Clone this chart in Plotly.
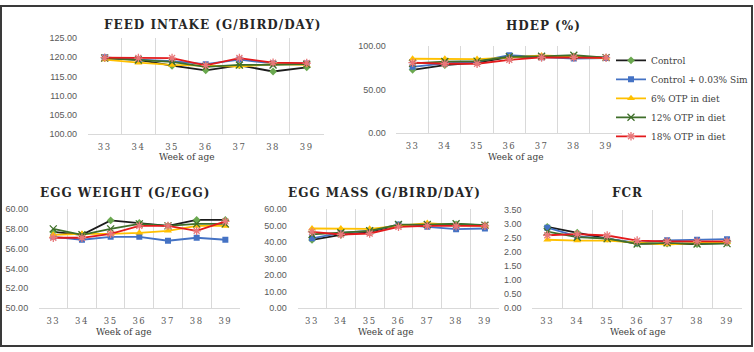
import plotly.graph_objects as go

W, H = 754, 352

weeks = [33, 34, 35, 36, 37, 38, 39]
series_names = ["Control", "Control + 0.03% Sim", "6% OTP in diet", "12% OTP in diet", "18% OTP in diet"]

feed_intake = {
    "Control": [119.8, 119.3, 117.8, 116.6, 117.9, 116.3, 117.4],
    "Control + 0.03% Sim": [120.0, 119.4, 119.0, 118.2, 119.4, 118.4, 118.4],
    "6% OTP in diet": [119.4, 118.6, 118.0, 117.8, 117.6, 118.2, 118.0],
    "12% OTP in diet": [119.8, 119.3, 118.8, 117.5, 118.0, 118.0, 118.2],
    "18% OTP in diet": [119.9, 119.8, 119.8, 117.9, 119.8, 118.6, 118.5],
}
hdep = {
    "Control": [72.6, 77.8, 80.7, 87.0, 87.5, 88.0, 86.5],
    "Control + 0.03% Sim": [76.0, 80.0, 82.0, 89.2, 87.0, 85.5, 86.0],
    "6% OTP in diet": [85.2, 85.2, 84.8, 86.5, 89.0, 87.5, 86.0],
    "12% OTP in diet": [80.0, 82.0, 82.5, 87.5, 88.0, 89.2, 86.5],
    "18% OTP in diet": [80.7, 79.5, 79.5, 84.0, 86.7, 86.7, 86.3],
}
egg_weight = {
    "Control": [57.7, 57.4, 58.85, 58.6, 58.3, 58.9, 58.9],
    "Control + 0.03% Sim": [57.2, 56.9, 57.2, 57.2, 56.8, 57.1, 56.9],
    "6% OTP in diet": [57.4, 57.5, 57.5, 57.6, 57.8, 58.3, 58.3],
    "12% OTP in diet": [58.0, 57.4, 58.0, 58.5, 58.3, 58.5, 58.5],
    "18% OTP in diet": [57.1, 57.1, 57.5, 58.3, 58.3, 57.8, 58.75],
}
egg_mass = {
    "Control": [41.3, 44.3, 46.2, 50.2, 50.2, 50.7, 50.2],
    "Control + 0.03% Sim": [42.3, 45.6, 46.8, 50.6, 49.2, 47.8, 48.2],
    "6% OTP in diet": [48.2, 48.2, 48.0, 49.8, 51.5, 50.2, 49.8],
    "12% OTP in diet": [44.6, 45.6, 46.8, 50.6, 50.6, 51.1, 50.2],
    "18% OTP in diet": [46.2, 44.6, 45.2, 49.2, 49.8, 49.6, 49.8],
}
fcr = {
    "Control": [2.90, 2.69, 2.48, 2.30, 2.30, 2.28, 2.33],
    "Control + 0.03% Sim": [2.87, 2.56, 2.48, 2.33, 2.42, 2.44, 2.46],
    "6% OTP in diet": [2.44, 2.41, 2.41, 2.33, 2.27, 2.33, 2.35],
    "12% OTP in diet": [2.73, 2.53, 2.48, 2.29, 2.33, 2.29, 2.30],
    "18% OTP in diet": [2.60, 2.64, 2.59, 2.41, 2.38, 2.38, 2.38],
}

titles = ["FEED INTAKE (G/BIRD/DAY)", "HDEP (%)", "EGG WEIGHT (G/EGG)", "EGG MASS (G/BIRD/DAY)", "FCR"]
x_title = "Week of age"

SERIF = "DejaVu Serif"
SANS = "Liberation Sans, Arial, sans-serif"

styles = {
    "Control": dict(line="#1c1c1c", marker="#6aa84f", symbol="diamond", size=6, mline=None),
    "Control + 0.03% Sim": dict(line="#4472C4", marker="#4472C4", symbol="square", size=6, mline=None),
    "6% OTP in diet": dict(line="#FFC000", marker="#FFC000", symbol="triangle-up", size=7, mline=None),
    "12% OTP in diet": dict(line="#3f6f2a", marker="#3f6f2a", symbol="x-thin-open", size=7, mline="#3f6f2a"),
    "18% OTP in diet": dict(line="#E31A1C", marker="#E8787a", symbol="asterisk-open", size=7, mline="#E8787a"),
}

# panel pixel boxes: (left, right, top, bottom), y range, dtick
panels = [
    (feed_intake, (88, 324, 34, 133), (100, 125), 5),
    (hdep, (397, 623, 42, 132), (0, 100), 50),
    (egg_weight, (39, 240, 210, 312), (50, 60), 2),
    (egg_mass, (298, 500, 210, 312), (0, 60), 10),
    (fcr, (533, 743, 211, 312), (0, 3.5), 0.5),
]
title_pos = [(213, 21), (544, 22), (125, 193), (385, 194), (628, 193)]
xtitle_pos = [(187, 156), (517, 156), (124, 337), (387, 337), (639, 337)]

fig = go.Figure()
layout = {}
grid_color = "#D9D9D9"
for i, (data, (l, r, t, b), yr, dt) in enumerate(panels):
    n = "" if i == 0 else str(i + 1)
    xa, ya = "x" + n, "y" + n
    for name in series_names:
        s = styles[name]
        mk = dict(symbol=s["symbol"], size=s["size"], color=s["marker"])
        if s["mline"]:
            mk["line"] = dict(color=s["mline"], width=1.3)
        fig.add_trace(go.Scatter(
            x=weeks, y=data[name], name=name, mode="lines+markers",
            line=dict(color=s["line"], width=1.8), marker=mk,
            xaxis=xa, yaxis=ya, showlegend=(i == 1), legendgroup=name,
        ))
    layout["xaxis" + n] = dict(
        domain=[l / W, r / W], anchor=ya, range=[32.5, 39.5],
        tickvals=weeks, ticktext=[f'<span style="letter-spacing:1.5px">{w}</span>' for w in weeks],
        showgrid=False, zeroline=False,
        showline=True, linecolor=grid_color, linewidth=1,
        ticks="outside", ticklen=5, tickcolor="rgba(0,0,0,0)",
        tickfont=dict(family=SERIF, size=8.5, color="#595959"),
        minor=dict(tickvals=[w - 0.5 for w in weeks] + [39.5], showgrid=True,
                   gridcolor=grid_color, gridwidth=1, ticks=""),
        fixedrange=True,
    )
    layout["yaxis" + n] = dict(
        domain=[1 - b / H, 1 - t / H], anchor=xa, range=list(yr), dtick=dt,
        tick0=yr[0], tickformat=".2f", showgrid=False, zeroline=False, showline=False,
        ticks="outside", ticklen=8, tickcolor="rgba(0,0,0,0)",
        tickfont=dict(family=SANS, size=9, color="#595959"),
        fixedrange=True,
    )
    tx, ty = title_pos[i]
    fig.add_annotation(
        x=tx / W, y=1 - ty / H, xref="paper", yref="paper",
        text='<b><span style="letter-spacing:1px">' + titles[i] + "</span></b>",
        showarrow=False, xanchor="center", yanchor="middle",
        font=dict(family=SERIF, size=12, color="#262626"),
    )
    wx, wy = xtitle_pos[i]
    fig.add_annotation(
        x=wx / W, y=1 - wy / H, xref="paper", yref="paper", text=x_title,
        showarrow=False, xanchor="center", yanchor="middle",
        font=dict(family=SERIF, size=9, color="#404040"),
    )

fig.update_layout(
    **layout,
    width=W, height=H, margin=dict(l=0, r=0, t=0, b=0),
    paper_bgcolor="white", plot_bgcolor="white",
    legend=dict(x=612 / W, y=1 - 42 / H, xanchor="left", yanchor="top",
                font=dict(family=SERIF, size=9, color="#404040"),
                itemwidth=30, bgcolor="rgba(0,0,0,0)", tracegroupgap=0),
    shapes=[dict(type="rect", xref="paper", yref="paper", x0=1 / W, x1=1 - 1 / W,
                 y0=1 / H, y1=1 - 1 / H, line=dict(color="#3a3a3a", width=2))],
    showlegend=True,
)

fig.write_html("out.html")
